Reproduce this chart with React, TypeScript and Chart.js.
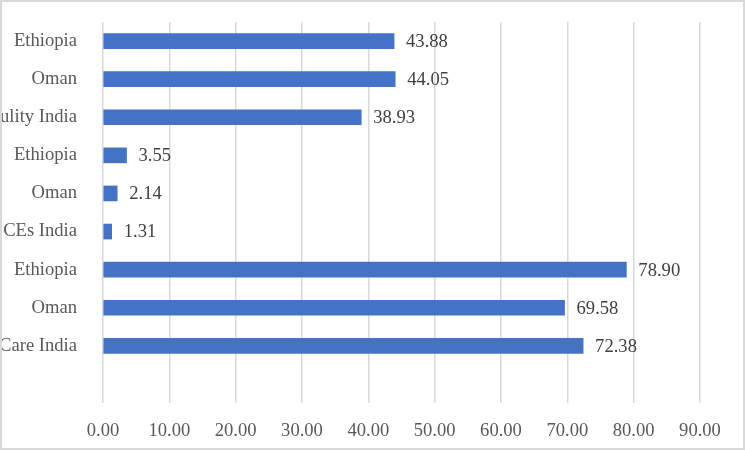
import React, { useEffect, useRef } from "react";
import { Chart, registerables } from "chart.js";

Chart.register(...registerables);

// Categories from top to bottom; the last slot is an empty row below the bars.
const categories: string[] = [
  "Ethiopia",
  "Oman",
  "ulity India",
  "Ethiopia",
  "Oman",
  "CEs India",
  "Ethiopia",
  "Oman",
  "Care India",
  "",
];

const values: (number | null)[] = [43.88, 44.05, 38.93, 3.55, 2.14, 1.31, 78.9, 69.58, 72.38, null];

const axisMin = 0;
const axisMax = 90;
const axisStep = 10;

const FONT = "'Liberation Serif', 'Times New Roman', serif";
const FONT_SIZE = 18.6;

// Writes each bar's value just past its end.
const valueLabels = {
  id: "valueLabels",
  afterDatasetsDraw(chart: any) {
    const ctx = chart.ctx;
    const meta = chart.getDatasetMeta(0);
    ctx.save();
    ctx.font = `${FONT_SIZE}px ${FONT}`;
    ctx.fillStyle = "#404040";
    ctx.textAlign = "left";
    ctx.textBaseline = "middle";
    meta.data.forEach((bar: any, i: number) => {
      const v = values[i];
      if (v === null || v === undefined) return;
      ctx.fillText(v.toFixed(2), bar.x + 12, bar.y + 1);
    });
    ctx.restore();
  },
};

export default function App() {
  const canvasRef = useRef<HTMLCanvasElement | null>(null);

  useEffect(() => {
    const canvas = canvasRef.current;
    if (!canvas) return;
    const chart = new Chart(canvas, {
      type: "bar",
      data: {
        labels: categories,
        datasets: [
          {
            data: values as any,
            backgroundColor: "#4472C4",
            barThickness: 15,
          },
        ],
      },
      options: {
        indexAxis: "y",
        responsive: false,
        animation: false,
        layout: { padding: { top: 20, right: 43, bottom: 0, left: 0 } },
        plugins: {
          legend: { display: false },
          tooltip: { enabled: false },
        },
        scales: {
          x: {
            min: axisMin,
            max: axisMax,
            border: { display: false },
            grid: { color: "#d9d9d9", lineWidth: 1.5, drawTicks: false },
            ticks: {
              stepSize: axisStep,
              padding: 17,
              color: "#595959",
              font: { family: FONT, size: FONT_SIZE },
              callback: (v: any) => Number(v).toFixed(2),
            },
            afterFit: (scale: any) => {
              scale.height = 45;
            },
          },
          y: {
            border: { display: false },
            grid: { display: false, drawTicks: false },
            ticks: {
              padding: 26,
              color: "#595959",
              font: { family: FONT, size: FONT_SIZE },
              autoSkip: false,
            },
            afterFit: (scale: any) => {
              scale.width = 101;
              scale.paddingTop = 0;
              scale.paddingBottom = 0;
            },
          },
        },
      },
      plugins: [valueLabels],
    });
    return () => chart.destroy();
  }, []);

  return (
    <div
      style={{
        position: "absolute",
        left: 0,
        top: 0,
        width: 745,
        height: 450,
        boxSizing: "border-box",
        border: "2px solid #d9d9d9",
        background: "#ffffff",
      }}
    >
      <canvas ref={canvasRef} width={741} height={446} style={{ display: "block" }} />
    </div>
  );
}
